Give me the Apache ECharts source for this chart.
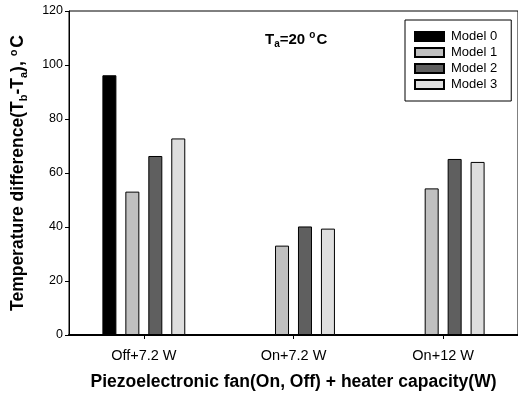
<!DOCTYPE html>
<html>
<head>
<meta charset="utf-8">
<script src="https://cdn.jsdelivr.net/npm/echarts@6/dist/echarts.min.js"></script>
<style>
html,body{margin:0;padding:0;background:#fff;}
#chart{width:518px;height:398px;}
</style>
</head>
<body>
<div id="chart"></div>
<script>
var categories = ['Off+7.2 W', 'On+7.2 W', 'On+12 W'];
var seriesNames = ['Model 0', 'Model 1', 'Model 2', 'Model 3'];
var model0 = [96.2, null, null];
var model1 = [53.1, 33.1, 54.3];
var model2 = [66.3, 40.2, 65.2];
var model3 = [72.8, 39.4, 64.1];
var seriesValues = [model0, model1, model2, model3];
var seriesColors = ['#000000', '#c0c0c0', '#5f5f5f', '#dedede'];
var yTicks = [0, 20, 40, 60, 80, 100, 120];

var FONT = 'Liberation Sans, Arial, sans-serif';
var chart = echarts.init(document.getElementById('chart'), null, {renderer: 'canvas'});

var series = seriesNames.map(function (n, i) {
  return {
    name: n,
    type: 'bar',
    data: seriesValues[i],
    barWidth: 14,
    barGap: '64%',
    itemStyle: {color: seriesColors[i], borderColor: '#000', borderWidth: 1},
    emphasis: {disabled: true},
    animation: false
  };
});

chart.setOption({
  animation: false,
  backgroundColor: '#fff',
  textStyle: {fontFamily: FONT},
  grid: {left: 69, top: 11, right: -2, bottom: 63, show: true, borderColor: '#000', borderWidth: 1, backgroundColor: 'transparent'},
  legend: {
    data: seriesNames,
    orient: 'vertical',
    icon: 'rect',
    left: 405,
    top: 20,
    padding: [10, 14, 10, 9],
    itemWidth: 29,
    itemHeight: 9,
    itemGap: 3,
    borderColor: '#000',
    borderWidth: 1,
    backgroundColor: '#fff',
    selectedMode: false,
    textStyle: {fontFamily: FONT, fontSize: 13, color: '#000', padding: [0, 0, 0, 2]}
  },
  xAxis: {
    type: 'category',
    data: categories,
    name: 'Piezoelectronic fan(On, Off) + heater capacity(W)',
    nameLocation: 'middle',
    nameGap: 38,
    nameTextStyle: {fontFamily: FONT, fontSize: 17.5, fontWeight: 'bold', color: '#000'},
    axisLine: {show: true, lineStyle: {color: '#000', width: 2}},
    axisTick: {show: true, alignWithLabel: true, length: 4, lineStyle: {color: '#000'}},
    axisLabel: {fontFamily: FONT, fontSize: 14.5, color: '#000', margin: 13},
    splitLine: {show: false}
  },
  yAxis: {
    type: 'value',
    min: 0,
    max: 120,
    interval: 20,
    name: '{n|Temperature difference(T}{s|b}{n|-T}{s|a}{n|), }{o|o}{n|C}',
    nameLocation: 'middle',
    nameGap: 40,
    nameRotate: 90,
    nameTextStyle: {
      fontFamily: FONT, fontSize: 17.5, fontWeight: 'bold', color: '#000',
      rich: {
        n: {fontFamily: FONT, fontSize: 17.5, fontWeight: 'bold', color: '#000', lineHeight: 21, verticalAlign: 'middle'},
        s: {fontFamily: FONT, fontSize: 11, fontWeight: 'bold', color: '#000', lineHeight: 21, verticalAlign: 'bottom', padding: [9, 0, 0, 0]},
        o: {fontFamily: FONT, fontSize: 11, fontWeight: 'bold', color: '#000', lineHeight: 21, verticalAlign: 'top', padding: [0, 2, 9, 0]}
      }
    },
    axisLine: {show: true, lineStyle: {color: '#000', width: 1}},
    axisTick: {show: true, length: 4, lineStyle: {color: '#000'}},
    axisLabel: {fontFamily: FONT, fontSize: 12.5, color: '#000', margin: 6,
      formatter: function (v) { return yTicks.indexOf(v) >= 0 ? String(v) : ''; }},
    splitLine: {show: false}
  },
  graphic: [{
    type: 'text',
    left: 265,
    top: 30,
    style: {
      text: '{n|T}{s|a}{n|=20 }{o|o}{n|C}',
      fontFamily: FONT,
      rich: {
        n: {fontFamily: FONT, fontSize: 15, fontWeight: 'bold', fill: '#000', lineHeight: 19, verticalAlign: 'middle'},
        s: {fontFamily: FONT, fontSize: 10, fontWeight: 'bold', fill: '#000', lineHeight: 19, verticalAlign: 'bottom', padding: [8, 0, 0, 0]},
        o: {fontFamily: FONT, fontSize: 10, fontWeight: 'bold', fill: '#000', lineHeight: 19, verticalAlign: 'top', padding: [0, 1, 8, 0]}
      }
    }
  }],
  series: series
});
</script>
</body>
</html>
